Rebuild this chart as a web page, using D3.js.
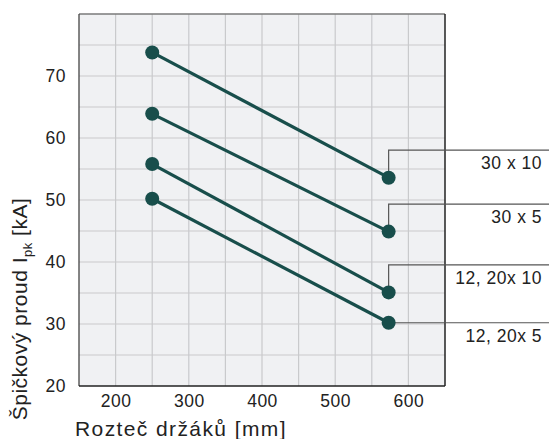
<!DOCTYPE html>
<html>
<head>
<meta charset="utf-8">
<script src="https://cdn.jsdelivr.net/npm/d3@7"></script>
<style>
  body { margin: 0; background: #fff; }
  svg text { font-family: 'Liberation Sans', Arial, sans-serif; fill: #222; }
</style>
</head>
<body>
<div id="chart"></div>
<script>
const width = 549
const height = 439
const margin = { top: 14, left: 79, bottom: 53, right: 104 }

// spacing of holders [mm]
const xStart = [250, 250, 250, 250]
const xEnd = [573, 573, 573, 573]
// peak current [kA]
const yStart = [73.8, 63.9, 55.8, 50.2]
const yEnd = [53.6, 44.9, 35.1, 30.2]
const seriesNames = ['30 x 10', '30 x 5', '12, 20x 10', '12, 20x 5']

const xTicks = [200, 300, 400, 500, 600]
const yTicks = [20, 30, 40, 50, 60, 70]

const innerW = width - margin.left - margin.right
const innerH = height - margin.top - margin.bottom
const color = '#184e4b'

const svg = d3.select('#chart').append('svg')
  .attr('width', width)
  .attr('height', height)

const x = d3.scaleLinear().domain([150, 650]).range([margin.left, margin.left + innerW])
const y = d3.scaleLinear().domain([20, 80]).range([margin.top + innerH, margin.top])

svg.append('rect')
  .attr('x', x(150)).attr('y', y(80))
  .attr('width', x(650) - x(150)).attr('height', y(20) - y(80))
  .attr('fill', '#f0f1f3')

// grid every 50 mm and 5 kA
svg.append('g').selectAll('line').data(d3.range(200, 650, 50)).join('line')
  .attr('x1', d => x(d)).attr('x2', d => x(d))
  .attr('y1', y(80)).attr('y2', y(20))
  .attr('stroke', '#c9cacc').attr('stroke-width', 1.2)
svg.append('g').selectAll('line').data(d3.range(25, 80, 5)).join('line')
  .attr('x1', x(150)).attr('x2', x(650))
  .attr('y1', d => y(d)).attr('y2', d => y(d))
  .attr('stroke', '#c9cacc').attr('stroke-width', 1.2)

// frame
svg.append('line').attr('x1', x(150)).attr('x2', x(650)).attr('y1', y(80)).attr('y2', y(80))
  .attr('stroke', '#7a7a7a').attr('stroke-width', 1.5)
svg.append('line').attr('x1', x(150)).attr('x2', x(150)).attr('y1', y(80)).attr('y2', y(20))
  .attr('stroke', '#444').attr('stroke-width', 1.3)
svg.append('line').attr('x1', x(650)).attr('x2', x(650)).attr('y1', y(80)).attr('y2', y(20))
  .attr('stroke', '#222').attr('stroke-width', 1.5)
svg.append('line').attr('x1', x(150)).attr('x2', x(650)).attr('y1', y(20)).attr('y2', y(20))
  .attr('stroke', '#222').attr('stroke-width', 1.5)

// axes (labels only)
const xAxis = svg.append('g')
  .attr('transform', 'translate(0,' + y(20) + ')')
  .call(d3.axisBottom(x).tickValues(xTicks).tickSize(0).tickPadding(9))
const yAxis = svg.append('g')
  .attr('transform', 'translate(' + (margin.left - 13) + ',0)')
  .call(d3.axisLeft(y).tickValues(yTicks).tickSize(0).tickPadding(0))
;[xAxis, yAxis].forEach(a => {
  a.select('.domain').remove()
  a.selectAll('text')
    .style('font-family', "'Liberation Sans', Arial, sans-serif")
    .style('font-size', '17.5px')
    .style('letter-spacing', '0.5px')
    .attr('fill', '#222')
})

// leader lines to labels: rise above the end point, then run to the right edge
seriesNames.forEach((name, i) => {
  const px = x(xEnd[i])
  const py = y(yEnd[i])
  const last = i === seriesNames.length - 1
  const ky = last ? py : py - 27.5
  svg.append('path')
    .attr('d', 'M' + px + ',' + py + 'V' + ky + 'H' + width)
    .attr('fill', 'none')
    .attr('stroke', '#555')
    .attr('stroke-width', 1.2)
  svg.append('text')
    .attr('x', 542)
    .attr('y', ky + 13)
    .attr('text-anchor', 'end')
    .attr('dominant-baseline', 'central')
    .style('font-size', '17.5px')
    .style('letter-spacing', '0.5px')
    .text(name)
})

// series
const data = seriesNames.map((name, i) => [[xStart[i], yStart[i]], [xEnd[i], yEnd[i]]])
const line = d3.line().x(d => x(d[0])).y(d => y(d[1]))
svg.append('g').selectAll('path').data(data).join('path')
  .attr('d', line)
  .attr('stroke', color)
  .attr('stroke-width', 3.2)
  .attr('fill', 'none')
svg.append('g').selectAll('circle').data(data.flat()).join('circle')
  .attr('cx', d => x(d[0]))
  .attr('cy', d => y(d[1]))
  .attr('r', 7)
  .attr('fill', color)

// axis titles
svg.append('text')
  .attr('x', 75).attr('y', 436)
  .style('font-size', '21px')
  .style('letter-spacing', '1.4px')
  .text('Rozteč držáků [mm]')

const yt = svg.append('text')
  .attr('transform', 'translate(27,' + 309 + ') rotate(-90)')
  .attr('text-anchor', 'middle')
  .style('font-size', '21px')
  .style('letter-spacing', '0.5px')
yt.append('tspan').text('Špičkový proud I')
yt.append('tspan').attr('dy', 5).style('font-size', '13px').text('pk')
yt.append('tspan').attr('dy', -5).text(' [kA]')
</script>
</body>
</html>
